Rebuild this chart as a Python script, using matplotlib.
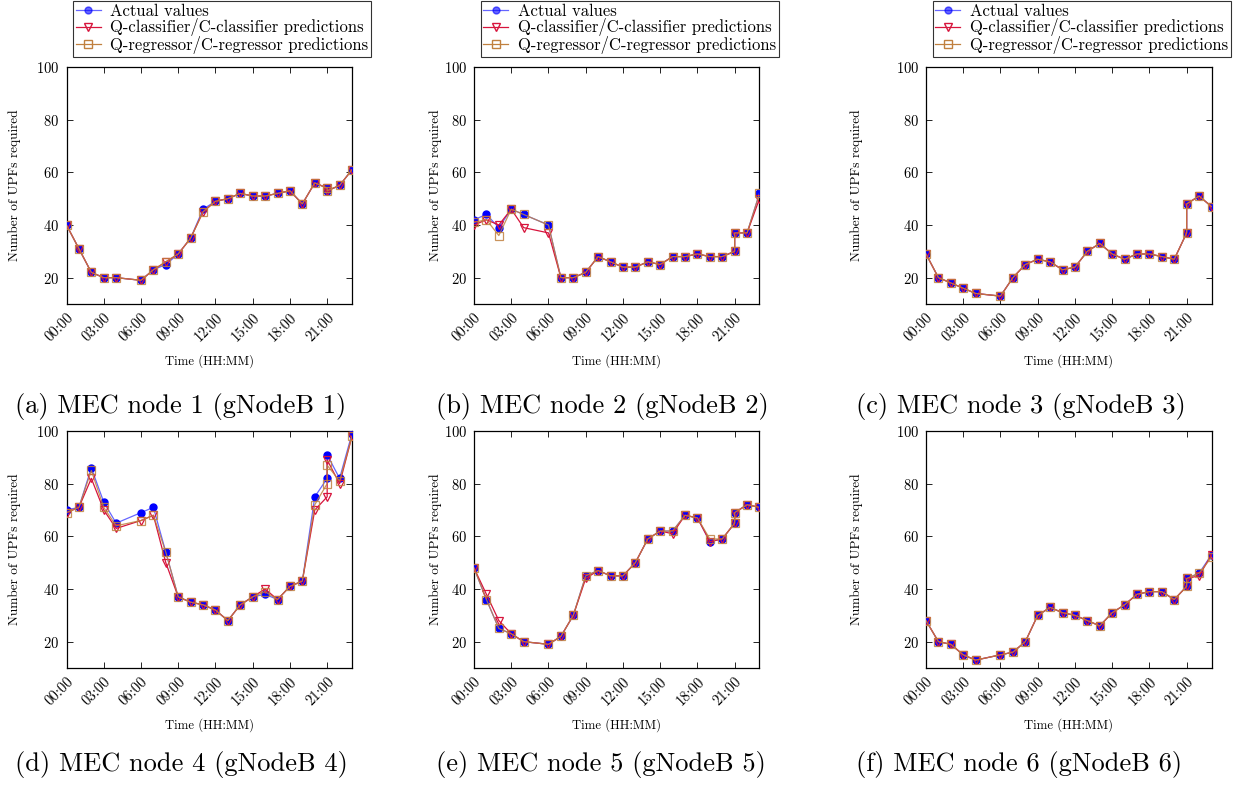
import matplotlib
matplotlib.use('Agg')
import matplotlib.pyplot as plt
from matplotlib.lines import Line2D

plt.rcParams['font.family'] = 'serif'
plt.rcParams['font.serif'] = ['cmr10', 'DejaVu Serif']
plt.rcParams['axes.unicode_minus'] = False
plt.rcParams['axes.formatter.use_mathtext'] = True

# hours of the 24 samples (no 05:00 sample, two samples at 21:00)
hours = [0, 1, 2, 3, 4, 6, 7, 8, 9, 10, 11, 12, 13, 14, 15, 16, 17, 18, 19, 20, 21, 21, 22, 23]
tick_hours = [0, 3, 6, 9, 12, 15, 18, 21]
tick_labels = ['00:00', '03:00', '06:00', '09:00', '12:00', '15:00', '18:00', '21:00']

actual_a = [40, 31, 22, 20, 20, 19, 23, 25, 29, 35, 46, 49, 50, 52, 51, 51, 52, 53, 48, 56, 54, 53, 55, 61]
clf_a = [40, 31, 22, 20, 20, 19, 23, 26, 29, 35, 45, 49, 50, 52, 51, 51, 52, 53, 48, 56, 54, 53, 55, 61]
reg_a = [40, 31, 22, 20, 20, 19, 23, 26, 29, 35, 45, 49, 50, 52, 51, 51, 52, 53, 48, 56, 54, 53, 55, 61]

actual_b = [42, 44, 39, 46, 44, 40, 20, 20, 22, 28, 26, 24, 24, 26, 25, 28, 28, 29, 28, 28, 30, 37, 37, 52]
clf_b = [40, 42, 40, 46, 39, 37, 20, 20, 22, 28, 26, 24, 24, 26, 25, 28, 28, 29, 28, 28, 30, 37, 37, 50]
reg_b = [41, 42, 36, 46, 44, 40, 20, 20, 22, 28, 26, 24, 24, 26, 25, 28, 28, 29, 28, 28, 30, 37, 37, 52]

actual_c = [29, 20, 18, 16, 14, 13, 20, 25, 27, 26, 23, 24, 30, 33, 29, 27, 29, 29, 28, 27, 37, 48, 51, 47]
clf_c = [29, 20, 18, 16, 14, 13, 20, 25, 27, 26, 23, 24, 30, 33, 29, 27, 29, 29, 28, 27, 37, 48, 51, 47]
reg_c = [29, 20, 18, 16, 14, 13, 20, 25, 27, 26, 23, 24, 30, 33, 29, 27, 29, 29, 28, 27, 37, 48, 51, 47]

actual_d = [70, 71, 86, 73, 65, 69, 71, 54, 37, 35, 34, 32, 28, 34, 37, 38, 36, 41, 43, 75, 82, 91, 82, 99]
clf_d = [69, 71, 82, 70, 63, 66, 68, 50, 37, 35, 34, 32, 28, 34, 37, 40, 36, 41, 43, 70, 75, 89, 80, 98]
reg_d = [69, 71, 85, 71, 64, 66, 68, 54, 37, 35, 34, 32, 28, 34, 37, 39, 36, 41, 43, 72, 80, 87, 81, 98]

actual_e = [48, 36, 25, 23, 20, 19, 22, 30, 45, 47, 45, 45, 50, 59, 62, 62, 68, 67, 58, 59, 65, 69, 72, 71]
clf_e = [48, 38, 28, 23, 20, 19, 22, 30, 44, 47, 45, 45, 50, 59, 62, 61, 68, 67, 58, 59, 65, 69, 72, 71]
reg_e = [48, 36, 25, 23, 20, 19, 22, 30, 45, 47, 45, 45, 50, 59, 62, 62, 68, 67, 59, 59, 65, 69, 72, 71]

actual_f = [28, 20, 19, 15, 13, 15, 16, 20, 30, 33, 31, 30, 28, 26, 31, 34, 38, 39, 39, 36, 41, 44, 46, 53]
clf_f = [28, 20, 19, 15, 13, 15, 16, 20, 30, 33, 31, 30, 28, 26, 31, 34, 38, 39, 39, 36, 41, 44, 45, 53]
reg_f = [28, 20, 19, 15, 13, 15, 16, 20, 30, 33, 31, 30, 28, 26, 31, 34, 38, 39, 39, 36, 41, 44, 46, 52]

captions = ['(a) MEC node 1 (gNodeB 1)', '(b) MEC node 2 (gNodeB 2)', '(c) MEC node 3 (gNodeB 3)',
            '(d) MEC node 4 (gNodeB 4)', '(e) MEC node 5 (gNodeB 5)', '(f) MEC node 6 (gNodeB 6)']
series = [(actual_a, clf_a, reg_a), (actual_b, clf_b, reg_b), (actual_c, clf_c, reg_c),
          (actual_d, clf_d, reg_d), (actual_e, clf_e, reg_e), (actual_f, clf_f, reg_f)]

BLUE = '#0000ff'
RED = '#d7143c'
BROWN = '#c0803f'

W, H = 1250, 787
fig = plt.figure(figsize=(W / 100, H / 100), dpi=100)

lefts = [66.5, 474, 926]
tops = [67, 431]
ylab_x = [15, 436, 857]
cap_x = [15, 436, 856]
cap_y = [407, 765]

for i, (act, clf, reg) in enumerate(series):
    row, col = divmod(i, 3)
    left, top = lefts[col], tops[row]
    ax = fig.add_axes([left / W, 1 - (top + 237) / H, 285.5 / W, 237 / H])

    ax.plot(hours, act, color=BLUE, lw=0.9, alpha=0.6, zorder=2)
    ax.plot(hours, act, ls='none', marker='o', ms=5, color=BLUE, zorder=3)
    ax.plot(hours, clf, color=RED, lw=0.9, marker='v', ms=5.5, mfc='none', mec=RED, mew=0.9, zorder=4)
    ax.plot(hours, reg, color=BROWN, lw=0.9, alpha=0.85, marker='s', ms=6, mfc='none', mec=BROWN, mew=0.9, zorder=5)

    ax.set_xlim(0, 23)
    ax.set_ylim(10, 100)
    ax.set_xticks(tick_hours)
    ax.set_xticklabels(tick_labels, rotation=45, ha='right', rotation_mode='anchor')
    ax.set_yticks([20, 40, 60, 80, 100])
    ax.tick_params(direction='in', top=True, right=True, length=4, width=0.6, labelsize=10.5, pad=5)
    for s in ax.spines.values():
        s.set_linewidth(0.9)

    ax.set_xlabel('Time (HH:MM)', fontsize=9.2, labelpad=7)
    fig.text(ylab_x[col] / W, 1 - (top + 118) / H, 'Number of UPFs required', rotation=90,
             ha='center', va='center', fontsize=9.6)
    fig.text(cap_x[col] / W, 1 - cap_y[row] / H, captions[i], ha='left', va='center', fontsize=19)

    if row == 0:
        handles = [
            Line2D([], [], color=BLUE, lw=0.9, alpha=0.6, marker='o', ms=5, mfc=BLUE, mec=BLUE),
            Line2D([], [], color=RED, lw=0.9, marker='v', ms=5.5, mfc='none', mec=RED),
            Line2D([], [], color=BROWN, lw=0.9, marker='s', ms=6, mfc='none', mec=BROWN),
        ]
        labels = ['Actual values', 'Q-classifier/C-classifier predictions',
                  'Q-regressor/C-regressor predictions']
        leg = fig.legend(handles, labels, loc='upper left',
                         bbox_to_anchor=((left + 6.5) / W, 1 - 1.0 / H),
                         fontsize=12, frameon=True, fancybox=False, edgecolor='black',
                         handlelength=1.5, handletextpad=0.6, borderpad=0.15,
                         labelspacing=-0.02, borderaxespad=0)
        leg.get_frame().set_linewidth(0.8)

fig.savefig('out.png', dpi=100)
